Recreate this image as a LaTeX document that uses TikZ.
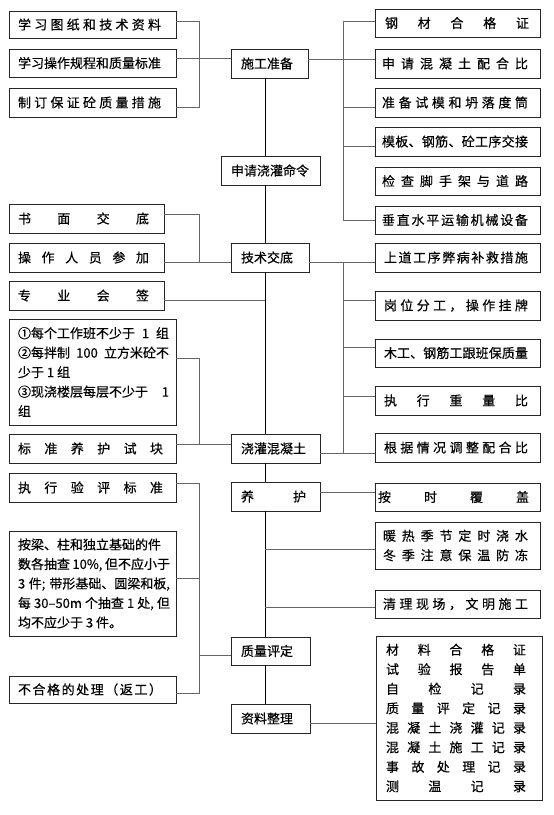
\documentclass[tikz,border=0pt]{standalone}
\usepackage{fontspec}
\setmainfont{Noto Sans CJK SC}[FakeBold=0.4]
\usetikzlibrary{calc}
\ExplSyntaxOn
\NewDocumentCommand\spread{mm}{
  \tl_set:Nn \l_tmpa_tl {#2}
  \tl_set:Nx \l_tmpb_tl {\tl_tail:N \l_tmpa_tl}
  \makebox[#1][s]{\tl_head:N \l_tmpa_tl \tl_map_inline:Nn \l_tmpb_tl {\hfill ##1}}
}
\ExplSyntaxOff
\tikzset{
  box/.style={draw=black!85, line width=0.8pt, inner sep=0pt, outer sep=0pt, anchor=north west},
  link/.style={draw=black!60, line width=0.8pt},
  trunk/.style={draw=black, line width=0.8pt},
}
\newcommand\bnode[6]{\node[box,minimum width=#3pt,minimum height=#4pt] (#1) at (#2) {\hbox to #3pt{\hspace*{#5pt}#6\hfil}};}
\begin{document}
\begin{tikzpicture}[x=1pt,y=-1pt,every node/.style={font=\fontsize{13pt}{19.5pt}\selectfont}]
\fill[white] (0,0) rectangle (554,815);
\useasboundingbox (0,0) rectangle (554,815);
\coordinate (tk) at (265,0);
\coordinate (lb) at (199,0);
\coordinate (rb) at (343,0);
% ---- center column
\bnode{P}{231,49}{77}{29}{10}{施工准备}
\bnode{C}{221,156}{99}{29}{10}{申请浇灌命令}
\bnode{T}{231,243}{78}{29}{10}{技术交底}
\bnode{G}{231,434}{89}{29}{10}{浇灌混凝土}
\bnode{Y}{231,482}{89}{29}{10}{\spread{65pt}{养护}}
\bnode{Q}{231,637}{79}{28}{10}{质量评定}
\bnode{Z}{231,704}{79}{29}{10}{资料整理}
% ---- left column
\bnode{L1}{9,11}{167}{27}{9}{\spread{143pt}{学习图纸和技术资料}}
\bnode{L2}{9,49}{167}{28}{9}{\spread{143pt}{学习操作规程和质量标准}}
\bnode{L3}{9,88}{167}{29}{9}{\spread{143pt}{制订保证砼质量措施}}
\bnode{L4}{9,204}{155}{29}{9}{\spread{131pt}{书面交底}}
\bnode{L5}{9,243}{155}{29}{9}{\spread{131pt}{操作人员参加}}
\bnode{L6}{9,281}{155}{29}{9}{\spread{131pt}{专业会签}}
\bnode{L7}{9,319}{167}{106}{9}{\parbox{151pt}{\makebox[151pt][s]{①每个工作班不少于 1 组}\\\makebox[151pt][s]{②每拌制 100 立方米砼不}\\少于 1 组\\\makebox[151pt][s]{③现浇楼层每层不少于 1}\\组}}
\bnode{L8}{9,434}{167}{29}{9}{\spread{145pt}{标准养护试块}}
\bnode{L9}{9,473}{167}{29}{9}{\spread{145pt}{执行验评标准}}
\bnode{L10}{9,531}{167}{105}{9}{\parbox{152pt}{\makebox[152pt][s]{按梁、柱和独立基础的件}\\\makebox[152pt][s]{数各抽查 10\%, 但不应小于}\\\makebox[152pt][s]{3 件; 带形基础、圆梁和板,}\\\makebox[152pt][s]{每 30–50m 个抽查 1 处, 但}\\均不应少于 3 件。}}
\bnode{L11}{9,676}{167}{27}{9}{\spread{144pt}{不合格的处理（返工）}}
% ---- right column
\bnode{R1}{375,9}{165}{28}{10}{\spread{144pt}{钢材合格证}}
\bnode{R2}{375,49}{165}{29}{7}{\spread{146pt}{申请混凝土配合比}}
\bnode{R3}{375,88}{165}{29}{7}{\spread{146pt}{准备试模和坍落度筒}}
\bnode{R4}{375,127}{165}{29}{7}{\spread{146pt}{模板、钢筋、砼工序交接}}
\bnode{R5}{375,167}{165}{28}{7}{\spread{146pt}{检查脚手架与道路}}
\bnode{R6}{375,206}{165}{28}{7}{\spread{146pt}{垂直水平运输机械设备}}
\bnode{R7}{375,243}{165}{29}{9}{\spread{144pt}{上道工序弊病补救措施}}
\bnode{R8}{375,291}{165}{29}{9}{\spread{144pt}{岗位分工，操作挂牌}}
\bnode{R9}{375,339}{165}{28}{9}{\spread{144pt}{木工、钢筋工跟班保质量}}
\bnode{R10}{375,386}{165}{29}{9}{\spread{144pt}{执行重量比}}
\bnode{R11}{375,433}{165}{29}{9}{\spread{144pt}{根据情况调整配合比}}
\bnode{R12}{375,483}{165}{28}{3}{\spread{151pt}{按时覆盖}}
\bnode{R13}{375,522}{165}{47}{8}{\parbox{145pt}{\spread{145pt}{暖热季节定时浇水}\\\spread{145pt}{冬季注意保温防冻}}}
\bnode{R14}{375,590}{165}{28}{8}{\spread{145pt}{清理现场，文明施工}}
\bnode{R15}{376,636}{166}{164}{10}{\parbox{140pt}{\spread{140pt}{材料合格证}\\\spread{140pt}{试验报告单}\\\spread{140pt}{自检记录}\\\spread{140pt}{质量评定记录}\\\spread{140pt}{混凝土浇灌记录}\\\spread{140pt}{混凝土施工记录}\\\spread{140pt}{事故处理记录}\\\spread{140pt}{测温记录}}}
% ---- trunk
\draw[trunk] (P.south -| tk) -- (C.north -| tk);
\draw[trunk] (C.south -| tk) -- (T.north -| tk);
\draw[trunk] (T.south -| tk) -- (G.north -| tk);
\draw[trunk] (G.south -| tk) -- (Y.north -| tk);
\draw[trunk] (Y.south -| tk) -- (Q.north -| tk);
\draw[trunk] (Q.south -| tk) -- (Z.north -| tk);
% ---- section 1
\coordinate (a1) at ([yshift=3.5pt]L1.east);
\coordinate (a2) at ([yshift=4.5pt]L2.east);
\coordinate (a3) at ([yshift=-4.5pt]L3.east);
\draw[link] (a1) -- (a1 -| lb) -- (a3 -| lb) -- (a3);
\draw[link] (a2) -- (a2 -| P.west);
\coordinate (b1) at ([yshift=2pt]R1.west);
\coordinate (b3) at ([yshift=-5pt]R3.west);
\coordinate (b4) at ([yshift=-5pt]R4.west);
\coordinate (b6) at (R6.west);
\draw[link] (b1) -- (b1 -| rb) -- (b6 -| rb) -- (b6);
\draw[link] ([yshift=4.5pt]P.east) -- ([yshift=4.5pt]R2.west);
\draw[link] (b3 -| rb) -- (b3);
\draw[link] (b4 -| rb) -- (b4);
% ---- section 2
\coordinate (c4) at ([yshift=4.5pt]L4.east);
\coordinate (c5) at ([yshift=-4.5pt]L5.east);
\draw[link] (c4) -- (c4 -| lb) -- (c5 -| lb);
\draw[link] (c5) -- (c5 -| T.west);
\coordinate (c6) at ([yshift=-4.5pt]L6.east);
\draw[link] (c6) -- (c6 -| tk);
\coordinate (c7) at ([yshift=14pt]L7.east);
\coordinate (c8) at ([yshift=4.5pt]L8.east);
\draw[link] (c7) -- (c7 -| lb) -- (c8 -| lb);
\draw[link] (c8) -- (c8 -| G.west);
\coordinate (d7) at ([yshift=-4.5pt]T.east);
\coordinate (d8) at ([yshift=5.5pt]R8.west);
\coordinate (d9) at ([yshift=6pt]R9.west);
\coordinate (d10) at ([yshift=4.5pt]R10.west);
\coordinate (d11) at ([yshift=-5pt]G.east);
\draw[link] (d7) -- (d7 -| R7.west);
\draw[link] (d11) -- (d11 -| R11.west);
\draw[link] (d7 -| rb) -- (d11 -| rb);
\draw[link] (d8 -| rb) -- (d8);
\draw[link] (d9 -| rb) -- (d9);
\draw[link] (d10 -| rb) -- (d10);
% ---- section 3
\coordinate (e9) at ([yshift=4.5pt]L9.east);
\coordinate (e10) at ([yshift=5.5pt]L10.east);
\coordinate (e11) at ([yshift=-3.5pt]L11.east);
\coordinate (eq) at ([yshift=-4pt]Q.west);
\draw[link] (e9) -- (e9 -| lb) -- (e11 -| lb) -- (e11);
\draw[link] (e10) -- (e10 -| lb);
\draw[link] (eq -| lb) -- (eq);
\draw[link] ([yshift=4.5pt]Y.east) -- ([yshift=4.5pt]Y.east -| R12.west);
\coordinate (f13) at ([yshift=-3.5pt]R13.west);
\coordinate (f14) at ([yshift=-3pt]R14.west);
\draw[link] (f13 -| tk) -- (f13);
\draw[link] (f14 -| tk) -- (f14);
\coordinate (f15) at ([yshift=-4.5pt]Z.east);
\draw[link] (f15) -- (f15 -| R15.west);
\end{tikzpicture}
\end{document}
